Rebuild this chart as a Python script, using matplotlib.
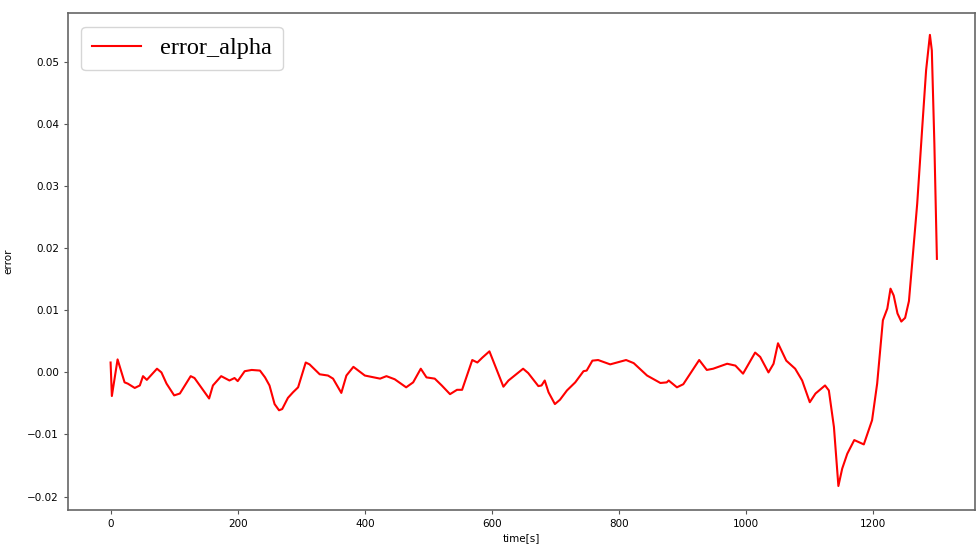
import numpy as np
import matplotlib.pyplot as plt

# DATA
time = [0, 2, 11, 22, 27, 38, 46, 51, 57, 73, 80, 88, 100, 109, 126, 132,
        155, 161, 174, 187, 195, 200, 211, 222, 235, 243, 250, 258, 265, 270,
        279, 287, 295, 307, 313, 329, 342, 350, 363, 371, 382, 400, 424, 434,
        447, 465, 476, 488, 497, 510, 521, 534, 545, 553, 569, 577, 585, 596,
        618, 626, 649, 657, 673, 678, 683, 689, 699, 707, 718, 731, 744, 749,
        758, 767, 786, 811, 823, 844, 865, 875, 878, 891, 901, 926, 938, 948,
        970, 983, 995, 1014, 1022, 1035, 1043, 1050, 1063, 1077, 1088, 1100,
        1109, 1124, 1130, 1138, 1145, 1151, 1159, 1170, 1185, 1198, 1206,
        1215, 1222, 1227, 1232, 1238, 1244, 1250, 1256, 1261, 1269, 1277,
        1283, 1289, 1292, 1296, 1300]
error_alpha = [0.0016, -0.0038, 0.0021, -0.0016, -0.0018, -0.0025, -0.0021,
               -0.0006, -0.0012, 0.0006, 0.0000, -0.0018, -0.0037, -0.0034,
               -0.0006, -0.0009, -0.0042, -0.0021, -0.0006, -0.0013, -0.0009,
               -0.0014, 0.0002, 0.0004, 0.0003, -0.0008, -0.0021, -0.0051,
               -0.0061, -0.0059, -0.0041, -0.0032, -0.0024, 0.0016, 0.0013,
               -0.0003, -0.0005, -0.0010, -0.0033, -0.0005, 0.0009, -0.0005,
               -0.0010, -0.0006, -0.0011, -0.0024, -0.0016, 0.0006, -0.0008,
               -0.0010, -0.0021, -0.0035, -0.0028, -0.0028, 0.0020, 0.0016,
               0.0024, 0.0034, -0.0023, -0.0013, 0.0006, -0.0001, -0.0022,
               -0.0021, -0.0013, -0.0032, -0.0051, -0.0044, -0.0029, -0.0016,
               0.0002, 0.0003, 0.0019, 0.0020, 0.0013, 0.0020, 0.0015, -0.0005,
               -0.0017, -0.0016, -0.0013, -0.0024, -0.0019, 0.0020, 0.0004,
               0.0006, 0.0014, 0.0011, -0.0002, 0.0032, 0.0025, 0.0000, 0.0014,
               0.0047, 0.0019, 0.0006, -0.0013, -0.0048, -0.0034, -0.0021,
               -0.0029, -0.0088, -0.0183, -0.0155, -0.0131, -0.0109, -0.0116,
               -0.0077, -0.0018, 0.0084, 0.0103, 0.0135, 0.0124, 0.0095,
               0.0082, 0.0088, 0.0115, 0.0175, 0.0272, 0.0396, 0.0487, 0.0544,
               0.0519, 0.0369, 0.0183]

fig = plt.figure(figsize=(9.77, 5.48), dpi=100)
ax = fig.add_subplot(111)
fig.subplots_adjust(left=0.0696, right=0.998, top=0.976, bottom=0.069)

ax.plot(time, error_alpha, color='red', linewidth=1.5, label='error_alpha')
ax.set_xlabel('time[s]', fontsize=7.5, labelpad=3)
ax.set_ylabel('error', fontsize=7.5, labelpad=10)
ax.set_xlim(-67, 1360)
ax.set_ylim(-0.0222, 0.0579)
ax.set_xticks([0, 200, 400, 600, 800, 1000, 1200])
ax.set_yticks([-0.02, -0.01, 0.0, 0.01, 0.02, 0.03, 0.04, 0.05])
ax.set_yticklabels(['−0.02', '−0.01', '0.00', '0.01', '0.02', '0.03', '0.04', '0.05'])
ax.tick_params(labelsize=7.5, length=3, color='#555555')
for s in ax.spines.values():
    s.set_color('#666666')
    s.set_linewidth(1.2)

ax.legend(loc='upper left', prop={'family': 'Liberation Serif', 'size': 17.5},
          borderaxespad=0.55, borderpad=0.45, handletextpad=0.8)

fig.savefig('out.png', dpi=100)
